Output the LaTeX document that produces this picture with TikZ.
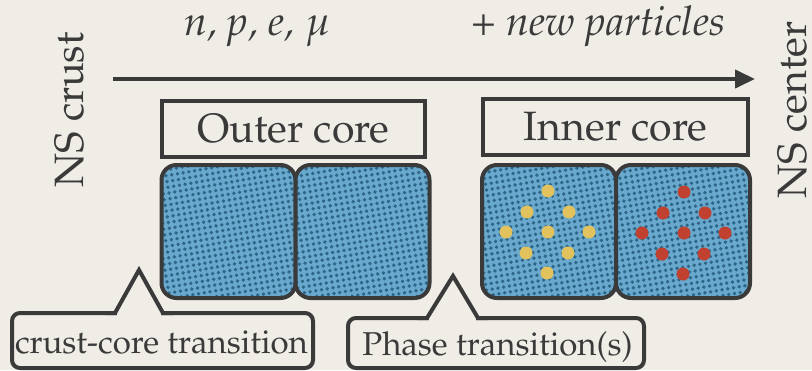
\documentclass[tikz,border=0pt]{standalone}
\usepackage[T1]{fontenc}
\usepackage{mathpazo}
\usetikzlibrary{arrows.meta,patterns.meta}
\definecolor{paper}{HTML}{F0EDE7}
\definecolor{inkc}{HTML}{3A3A3A}
\definecolor{cellblue}{HTML}{6AA9CE}
\definecolor{celldot}{HTML}{2E6688}
\definecolor{dotyellow}{HTML}{E2C25C}
\definecolor{dotred}{HTML}{C0412F}
\tikzset{
  ink/.style={draw=inkc, line width=4pt},
  biglbl/.style={font=\fontsize{41}{41}\selectfont, text=inkc, inner sep=0pt},
  smalllbl/.style={font=\fontsize{33}{33}\selectfont, text=inkc, inner sep=0pt},
  corebox/.style={biglbl, draw=inkc, line width=4pt, minimum height=56pt},
  cell/.style={draw=inkc, line width=4pt, rounded corners=15pt,
    minimum width=134pt, minimum height=133pt, inner sep=0pt,
    preaction={fill=cellblue},
    pattern={Dots[radius=1.9pt,distance=5.8pt,angle=10]}, pattern color=celldot},
  ydot/.style={circle, fill=dotyellow, minimum size=13pt, inner sep=0pt},
  rdot/.style={circle, fill=dotred, minimum size=13pt, inner sep=0pt},
}
\begin{document}
\begin{tikzpicture}[x=1pt,y=-1pt]
\useasboundingbox (0,0) rectangle (812,370);
\fill[paper] (0,0) rectangle (812,370);

% top labels
\node[biglbl, anchor=base] (parts) at (257.5,35) {\itshape n, p, e, $\mu$};
\node[biglbl, anchor=base] (newp) at (598.5,35) {\itshape + new particles};

% side labels
\node[biglbl, rotate=90, anchor=base] (crust) at (83,110) {NS crust};
\node[biglbl, rotate=90, anchor=base] (center) at (806,110) {NS center};

% arrow
\coordinate (as) at (113,79);
\coordinate (ae) at (755,79);
\draw[ink, -{Triangle[length=20pt,width=18pt]}] (as) -- (ae);

% core boxes
\node[corebox, minimum width=263pt] (outer) at (293.5,129) {Outer core};
\node[corebox, minimum width=265pt] (inner) at (615.5,127) {Inner core};

% cells
\node[cell] (c1) at (228.5,231.5) {};
\node[cell] (c2) at (362.5,231.5) {};
\node[cell] (c3) at (549,231.5) {};
\node[cell] (c4) at (683,231.5) {};

% yellow particles
\foreach \dx/\dy [count=\i] in {0/-41,-21/-20,21/-20,-42/0,0/0,41/0,-22/21,20/21,-1/41}
  \node[ydot] (y\i) at (548+\dx,232+\dy) {};
% red particles
\foreach \dx/\dy [count=\i] in {0/-41,-21/-20,21/-20,-42/0,0/0,41/0,-22/21,20/21,-1/41}
  \node[rdot] (r\i) at (684+\dx,233+\dy) {};

% callout 1
\draw[ink, fill=paper, rounded corners=8pt] (12,313) rectangle (313,368);
\fill[paper] (117,309) rectangle (161,317);
\draw[ink, line join=miter] (105,313) -- (115,313) -- (139,270) -- (163,313) -- (173,313);
\node[smalllbl, anchor=base] (cct) at (161.5,353) {crust-core transition};

% callout 2
\draw[ink, fill=paper, rounded corners=8pt] (348,318) rectangle (644,368);
\fill[paper] (429,314) rectangle (476,322);
\draw[ink, line join=miter] (417,318) -- (427,318) -- (453,276) -- (478,318) -- (488,318);
\node[smalllbl, anchor=base] (ptt) at (497.5,355) {Phase transition(s)};
\end{tikzpicture}
\end{document}
